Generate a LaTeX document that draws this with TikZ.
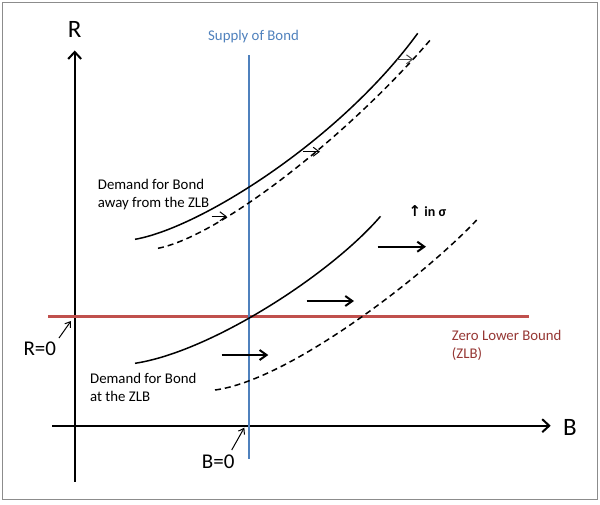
\documentclass[tikz,border=0pt]{standalone}
\usepackage{fontspec}
\setmainfont{Carlito}
\newfontfamily\dejavu{DejaVu Sans}
\usetikzlibrary{arrows.meta}
\definecolor{bondblue}{RGB}{79,129,189}
\definecolor{zlbred}{RGB}{192,80,77}
\definecolor{zlbtext}{RGB}{150,55,52}
\definecolor{framegray}{RGB}{140,140,140}
\tikzset{
  axisline/.style={line width=2pt,-{Straight Barb[length=7pt,width=13pt]}},
  curvesolid/.style={line width=1.5pt},
  curvedash/.style={line width=1.5pt,dash pattern=on 6pt off 4pt},
  shiftbig/.style={line width=2pt,-{Straight Barb[length=7pt,width=10pt]}},
  shiftsmall/.style={line width=1pt,-{Straight Barb[length=6pt,width=9pt]}},
  pointer/.style={line width=1pt,-{Straight Barb[length=5pt,width=7pt]}},
  lbl/.style={inner sep=0pt,font=\fontsize{14.8}{18}\selectfont,align=left},
  axlbl/.style={inner sep=0pt,font=\fontsize{25}{30}\selectfont},
  zerolbl/.style={inner sep=0pt,font=\fontsize{21}{25}\selectfont}
}
\begin{document}
\begin{tikzpicture}[x=1pt,y=-1pt]
\useasboundingbox (0,0) rectangle (600,504);
\fill[white] (0,0) rectangle (600,504);
\draw[framegray,line width=1.2pt] (2.7,2.7) rectangle (597.7,499.3);

% axes
\coordinate (rbot) at (74.7,481.7);
\coordinate (rtop) at (74.7,50.5);
\coordinate (bleft) at (52,425.7);
\coordinate (bright) at (550.7,425.7);
\draw[axisline] (rbot) -- (rtop);
\draw[axisline] (bleft) -- (bright);
\node[axlbl,anchor=base] (Rlab) at (74.7,37.7) {R};
\node[axlbl,anchor=base west] (Blab) at (563,435) {B};

% ZLB line
\coordinate (zl) at (48,316.7);
\coordinate (zr) at (529,316.7);
\draw[zlbred,line width=3pt] (zl) -- (zr);
\node[lbl,anchor=north west,text=zlbtext] (zlbtxt) at (451.7,330) {Zero Lower Bound\\(ZLB)};

% Supply line
\coordinate (st) at (249,55);
\coordinate (sb) at (249,459);
\draw[bondblue,line width=2pt] (st) -- (sb);
\node[lbl,anchor=base west,text=bondblue] (suplab) at (208,40) {Supply of Bond};

% upper demand curves
\coordinate (us0) at (135,239.3);
\coordinate (us1) at (417.7,33.3);
\coordinate (ud0) at (158,248.3);
\coordinate (ud1) at (431.7,38.3);
\draw[curvesolid] (us0) .. controls (200,228) and (340,140) .. (us1);
\draw[curvedash] (ud0) .. controls (220,236) and (348,136) .. (ud1);

\coordinate (ua1) at (211.7,216.3);
\coordinate (ua2) at (226.7,216.3);
\coordinate (ub1) at (303.3,151.7);
\coordinate (ub2) at (320,151.7);
\coordinate (uc1) at (396.7,59.3);
\coordinate (uc2) at (413.3,59.3);
\draw[shiftsmall] (ua1) -- (ua2);
\draw[shiftsmall] (ub1) -- (ub2);
\draw[shiftsmall,black!70] (uc1) -- (uc2);

\node[lbl,anchor=north west] (dtop) at (97.7,178.8) {Demand for Bond\\away from the ZLB};

% lower demand curves
\coordinate (ls0) at (135,363.3);
\coordinate (ls1) at (380.5,216.3);
\coordinate (ld0) at (215,390);
\coordinate (ld1) at (476.7,220);
\draw[curvesolid] (ls0) .. controls (210,352) and (330,275) .. (ls1);
\draw[curvedash] (ld0) .. controls (290,380) and (425,275) .. (ld1);

\coordinate (la1) at (221.7,355);
\coordinate (la2) at (268.3,355);
\coordinate (lb1) at (306.7,301);
\coordinate (lb2) at (354,301);
\coordinate (lc1) at (377.7,246.7);
\coordinate (lc2) at (426,246.7);
\draw[shiftbig] (la1) -- (la2);
\draw[shiftbig] (lb1) -- (lb2);
\draw[shiftbig] (lc1) -- (lc2);

\node[inner sep=0pt,anchor=base west,font=\bfseries\fontsize{14}{16}\selectfont] (sig) at (408.5,216) {{\dejavu\bfseries\fontsize{15}{16}\selectfont ↑} in σ};

\node[lbl,anchor=north west] (dbot) at (90,373) {Demand for Bond\\at the ZLB};

% zero labels
\node[zerolbl,anchor=base west] (R0) at (23.3,355) {R=0};
\node[zerolbl,anchor=base west] (B0) at (201.7,468.3) {B=0};
\coordinate (r0tip) at (71,321);
\coordinate (b0tip) at (244.3,427.7);
\draw[pointer] (59,338) -- (r0tip);
\draw[pointer] (231.7,450) -- (b0tip);
\end{tikzpicture}
\end{document}
